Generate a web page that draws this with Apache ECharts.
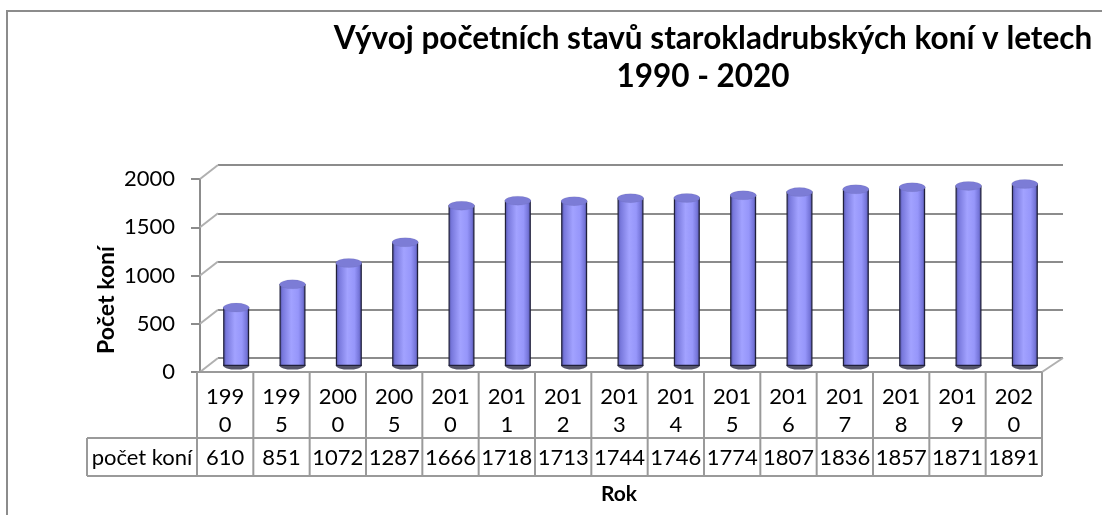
<!DOCTYPE html>
<html>
<head>
<meta charset="utf-8">
<script src="https://cdn.jsdelivr.net/npm/echarts@6/dist/echarts.min.js"></script>
<style>
html,body{margin:0;padding:0;background:#fff;}
#main{width:1102px;height:515px;}
</style>
</head>
<body>
<div id="main"></div>
<script>
// ---- data ----
const years = ['1990','1995','2000','2005','2010','2011','2012','2013','2014','2015','2016','2017','2018','2019','2020'];
const counts = [610,851,1072,1287,1666,1718,1713,1744,1746,1774,1807,1836,1857,1871,1891];
const seriesName = 'počet koní';
const titleLine1 = 'Vývoj početních stavů starokladrubských koní v letech';
const titleLine2 = '1990 - 2020';
const yAxisTitle = 'Počet koní';
const xAxisTitle = 'Rok';
const yTicks = [0,500,1000,1500,2000];

const FONT = 'Lato, "Open Sans", sans-serif';
const GRAY = '#8c8c8c';

const chart = echarts.init(document.getElementById('main'));

const bodyGrad = new echarts.graphic.LinearGradient(0,0,1,0,[
  {offset:0,color:'#4e4e9e'},
  {offset:0.12,color:'#7878dc'},
  {offset:0.45,color:'#a2a2ff'},
  {offset:0.72,color:'#9696fa'},
  {offset:0.9,color:'#7474d8'},
  {offset:1,color:'#44448a'}
]);

const option = {
  animation:false,
  backgroundColor:'#fff',
  title:[
    {text:titleLine1,left:708,top:18,textAlign:'center',
     textStyle:{fontFamily:FONT,fontWeight:'bold',fontSize:31.5,color:'#000'}},
    {text:titleLine2,left:698,top:56,textAlign:'center',
     textStyle:{fontFamily:FONT,fontWeight:'bold',fontSize:31.5,color:'#000'}}
  ],
  grid:[
    {left:218,top:165,width:845,height:193},   // back wall
    {left:197,top:179,width:845,height:193},   // front plane
    {left:208,top:173,width:845,height:193}    // bars (mid depth)
  ],
  xAxis:[
    {type:'category',data:years,gridIndex:0,show:false},
    {type:'category',data:years,gridIndex:1,show:false},
    {type:'category',data:years,gridIndex:2,show:false}
  ],
  yAxis:[
    {type:'value',gridIndex:0,min:0,max:2000,interval:500,
     axisLine:{show:false},axisTick:{show:false},axisLabel:{show:false},
     splitLine:{show:true,lineStyle:{color:GRAY,width:2}}},
    {type:'value',gridIndex:1,min:0,max:2000,interval:500,offset:-3,
     axisLine:{show:true,lineStyle:{color:GRAY,width:2}},
     axisTick:{show:true,inside:false,length:9,lineStyle:{color:GRAY,width:2}},
     axisLabel:{show:true,margin:25,fontFamily:FONT,fontSize:22,color:'#000',
       formatter:v=>String(v)},
     splitLine:{show:false}},
    {type:'value',gridIndex:2,min:0,max:2000,interval:500,show:false,splitLine:{show:false}}
  ],
  series:[
    {type:'pictorialBar',name:'base',xAxisIndex:2,yAxisIndex:2,data:counts,
     symbol:'circle',symbolSize:[26,8],symbolPosition:'start',symbolOffset:[0,'45%'],
     itemStyle:{color:'#55556a'},z:1,silent:true},
    {type:'bar',name:seriesName,xAxisIndex:2,yAxisIndex:2,data:counts,barWidth:26,
     itemStyle:{color:bodyGrad,borderColor:'#20203a',borderWidth:1.2},z:2},
    {type:'pictorialBar',name:'top',xAxisIndex:2,yAxisIndex:2,data:counts,
     symbol:'circle',symbolSize:[26,9],symbolPosition:'end',symbolOffset:[0,'-50%'],
     itemStyle:{color:'#7c7cd6',borderColor:'#1a1a2c',borderWidth:1.5},z:3,silent:true}
  ]
};
chart.setOption(option);

// ---- decorations & data table derived from axes ----
const g = [];
g.push({type:'rect',shape:{x:7,y:11,width:1200,height:600},
  style:{fill:'none',stroke:GRAY,lineWidth:2},z:0});

yTicks.forEach(v=>{
  const yb = chart.convertToPixel({gridIndex:0},[0,v])[1];
  const yf = chart.convertToPixel({gridIndex:1},[0,v])[1];
  g.push({type:'line',shape:{x1:200,y1:yf,x2:218,y2:yb},
    style:{stroke:'#b0b0b0',lineWidth:2},z:1});
});
const yb0 = chart.convertToPixel({gridIndex:0},[0,0])[1];
const yf0 = chart.convertToPixel({gridIndex:1},[0,0])[1];
const backRight = 218+845, frontRight = 197+845;
g.push({type:'line',shape:{x1:frontRight,y1:yf0,x2:backRight,y2:yb0},
  style:{stroke:'#b0b0b0',lineWidth:2},z:1});

const n = years.length;
const band = 845/n;
const tTop = yf0, tMid = 438, tBot = 476, tLeft = 197, labelLeft = 87;
const TCOL = '#9a9a9a';
g.push({type:'line',shape:{x1:tLeft,y1:tTop,x2:frontRight,y2:tTop},style:{stroke:TCOL,lineWidth:2},z:5});
g.push({type:'line',shape:{x1:labelLeft,y1:tMid,x2:frontRight,y2:tMid},style:{stroke:TCOL,lineWidth:2},z:5});
g.push({type:'line',shape:{x1:labelLeft,y1:tBot,x2:frontRight,y2:tBot},style:{stroke:TCOL,lineWidth:2},z:5});
g.push({type:'line',shape:{x1:labelLeft,y1:tMid,x2:labelLeft,y2:tBot},style:{stroke:TCOL,lineWidth:2},z:5});
for(let i=0;i<=n;i++){
  const x = tLeft + i*band;
  g.push({type:'line',shape:{x1:x,y1:tTop,x2:x,y2:tBot},style:{stroke:TCOL,lineWidth:2},z:5});
}
years.forEach((yr,i)=>{
  const cx = chart.convertToPixel({gridIndex:1},[yr,0])[0];
  g.push({type:'text',x:cx,y:397,style:{text:yr.slice(0,3),fill:'#000',font:'22px '+FONT,
    textAlign:'center',textVerticalAlign:'middle'},z:6});
  g.push({type:'text',x:cx,y:425,style:{text:yr.slice(3),fill:'#000',font:'22px '+FONT,
    textAlign:'center',textVerticalAlign:'middle'},z:6});
  g.push({type:'text',x:cx,y:458,style:{text:String(counts[i]),fill:'#000',font:'22px '+FONT,
    textAlign:'center',textVerticalAlign:'middle'},z:6});
});
g.push({type:'text',x:(labelLeft+tLeft)/2,y:458,style:{text:seriesName,fill:'#000',font:'22px '+FONT,
  textAlign:'center',textVerticalAlign:'middle'},z:6});

g.push({type:'text',x:107,y:300,rotation:Math.PI/2,style:{text:yAxisTitle,fill:'#000',
  font:'bold 23px '+FONT,textAlign:'center',textVerticalAlign:'middle'},z:6});
g.push({type:'text',x:619,y:494,style:{text:xAxisTitle,fill:'#000',
  font:'bold 21px '+FONT,textAlign:'center',textVerticalAlign:'middle'},z:6});

chart.setOption({graphic:g});
</script>
</body>
</html>
